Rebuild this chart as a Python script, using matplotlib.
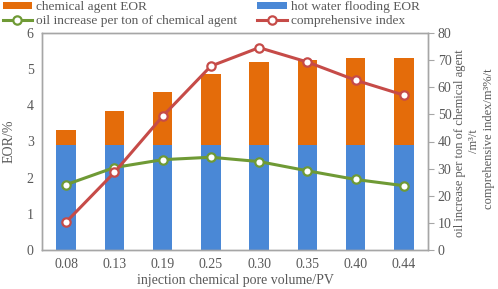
import matplotlib
matplotlib.use("Agg")
import matplotlib.pyplot as plt
import numpy as np

categories = ["0.08", "0.13", "0.19", "0.25", "0.30", "0.35", "0.40", "0.44"]
hot_water_eor = [2.9, 2.9, 2.9, 2.9, 2.9, 2.9, 2.9, 2.9]
chemical_eor = [0.43, 0.94, 1.48, 1.98, 2.29, 2.36, 2.40, 2.42]
oil_per_ton = [24.1, 30.4, 33.3, 34.2, 32.6, 29.2, 26.0, 23.7]
comp_index = [10.3, 28.6, 49.3, 67.8, 74.6, 69.3, 62.6, 57.1]

plt.rcParams['font.family'] = ['Liberation Serif', 'DejaVu Serif']
txt = '#595959'
spine_c = '#A6A6A6'
c_orange = '#E46C0A'
c_blue = '#4A88D6'
c_green = '#6F9A35'
c_red = '#C64B48'

fig = plt.figure(figsize=(4.98, 2.89), dpi=100)
ax = fig.add_axes([42/498, 1-250/289, (428-42)/498, (250-33)/289])
x = np.arange(len(categories))
w = 0.4
b1 = ax.bar(x, hot_water_eor, w, color=c_blue, zorder=2, label='hot water flooding EOR')
b2 = ax.bar(x, chemical_eor, w, bottom=hot_water_eor, color=c_orange, zorder=2, label='chemical agent EOR')
ax.set_xlim(-0.5, len(categories)-0.5)
ax.set_ylim(0, 6)
ax.set_yticks(range(0, 7))
ax.set_xticks(x)
ax.set_xticklabels(categories)
ax.tick_params(axis='both', length=0, labelsize=10, colors=txt, pad=6)
for s in ax.spines.values():
    s.set_color(spine_c)
    s.set_linewidth(1.0)
ax.set_ylabel('EOR/%', fontsize=10, color=txt, labelpad=8)
ax.set_xlabel('injection chemical pore volume/PV', fontsize=10, color=txt, labelpad=2)

ax2 = ax.twinx()
l1, = ax2.plot(x, oil_per_ton, color=c_green, lw=2.2, marker='o', ms=6,
               mfc='white', mec=c_green, mew=1.6, zorder=3,
               label='oil increase per ton of chemical agent')
l2, = ax2.plot(x, comp_index, color=c_red, lw=2.2, marker='o', ms=6,
               mfc='white', mec=c_red, mew=1.6, zorder=4,
               label='comprehensive index')
ax2.set_ylim(0, 80)
ax2.set_yticks(range(0, 81, 10))
ax2.tick_params(axis='y', length=4, width=0.8, color=spine_c, labelsize=10, colors=txt, pad=3)
for s in ax2.spines.values():
    s.set_color(spine_c)
    s.set_linewidth(1.0)

fig.text(460/498, 1-143/289, 'oil increase per ton of chemical agent', rotation=90,
         ha='center', va='center', fontsize=9, color=txt)
fig.text(474/498, 1-141/289, '/m³/t', rotation=90,
         ha='center', va='center', fontsize=9, color=txt)
fig.text(489/498, 1-139/289, 'comprehensive index/m³%/t', rotation=90,
         ha='center', va='center', fontsize=9, color=txt)

leg = fig.legend([b2, l1, b1, l2],
                 ['chemical agent EOR', 'oil increase per ton of chemical agent',
                  'hot water flooding EOR', 'comprehensive index'],
                 ncol=2, loc='upper left', bbox_to_anchor=(0.003, 1.0),
                 frameon=False, fontsize=9.6, handlelength=2.2, handletextpad=0.3,
                 columnspacing=1.5, labelspacing=0.15, borderpad=0.1,
                 borderaxespad=0.0, handleheight=0.5)
for t in leg.get_texts():
    t.set_color(txt)

fig.savefig('out.png', dpi=100)
